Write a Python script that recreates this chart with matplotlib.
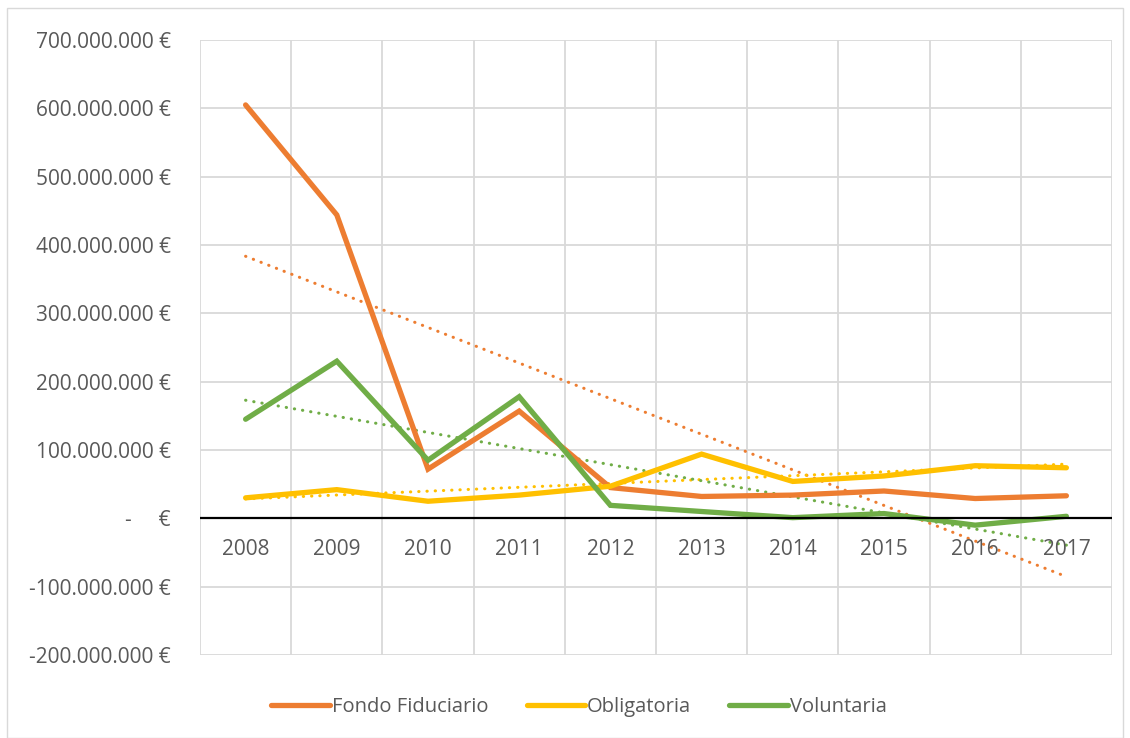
import numpy as np
import matplotlib
matplotlib.use("Agg")
from matplotlib import pyplot as plt
from matplotlib import transforms
from matplotlib.patches import Rectangle

plt.rcParams['font.family'] = ['Open Sans', 'DejaVu Sans']

# datos
years = ["2008", "2009", "2010", "2011", "2012", "2013", "2014", "2015", "2016", "2017"]
fondo_fiduciario = [605e6, 444e6, 72e6, 157e6, 45e6, 32e6, 34e6, 40e6, 29e6, 33e6]
obligatoria = [30e6, 42e6, 25e6, 34e6, 47e6, 94e6, 54e6, 62e6, 77e6, 74e6]
voluntaria = [145e6, 230e6, 85e6, 178e6, 19e6, 10e6, 1e6, 7e6, -10e6, 3e6]
y_ticks = [-200e6, -100e6, 0, 100e6, 200e6, 300e6, 400e6, 500e6, 600e6, 700e6]

series = [("Fondo Fiduciario", fondo_fiduciario, "#ED7D31"),
          ("Obligatoria", obligatoria, "#FFC000"),
          ("Voluntaria", voluntaria, "#70AD47")]

gris = "#595959"


def etiqueta_euro(v):
    if v == 0:
        return "-     €"
    s = f"{abs(int(v)):,}".replace(",", ".")
    return ("-" if v < 0 else "") + s + " €"


fig = plt.figure(figsize=(11.3, 7.38), dpi=100)
ax = fig.add_axes([200 / 1130, 1 - 655 / 738, 912 / 1130, 615 / 738])

x = np.arange(len(years))

# tendencias lineales
for nombre, vals, color in series:
    a, b = np.polyfit(x + 1, vals, 1)
    ax.plot(x, a * (x + 1) + b, color=color, lw=2.2,
            linestyle=(0, (0.1, 2.6)), dash_capstyle='round', zorder=3)

for nombre, vals, color in series:
    ax.plot(x, vals, color=color, lw=3.8, solid_capstyle='round',
            solid_joinstyle='miter', label=nombre, zorder=4)

ax.axhline(0, color="black", lw=1.6, zorder=5)

ax.set_xlim(-0.5, len(years) - 0.5)
ax.set_ylim(y_ticks[0], y_ticks[-1])
ax.set_yticks(y_ticks)
ax.set_yticklabels([etiqueta_euro(v) for v in y_ticks])
ax.set_xticks(np.arange(-0.5, len(years), 1.0))
ax.set_xticklabels([])
ax.tick_params(axis='both', length=0)
ax.tick_params(axis='y', pad=21, labelsize=15, labelcolor=gris)
ax.grid(True, color="#D9D9D9", lw=1.3, zorder=0)
for s in ax.spines.values():
    s.set_visible(False)

# etiquetas de los años bajo la línea del cero
trans = transforms.offset_copy(ax.transData, fig=fig, x=0, y=-31, units='dots')
for i, yr in enumerate(years):
    ax.text(i, 0, yr, transform=trans, ha='center', va='center',
            fontsize=15, color=gris, zorder=6)

leg = fig.legend(loc='center', bbox_to_anchor=(579 / 1130, 1 - 707 / 738), ncol=3,
                 frameon=False, fontsize=14.5, handlelength=2.9, handletextpad=0.1,
                 columnspacing=1.9)
for t in leg.get_texts():
    t.set_color(gris)

fig.patches.append(Rectangle((7 / 1130, 0), 1 - 14 / 1130, 1 - 8 / 738,
                             transform=fig.transFigure, fill=False,
                             edgecolor="#D9D9D9", lw=1))

fig.savefig("out.png", dpi=100, facecolor="white")
